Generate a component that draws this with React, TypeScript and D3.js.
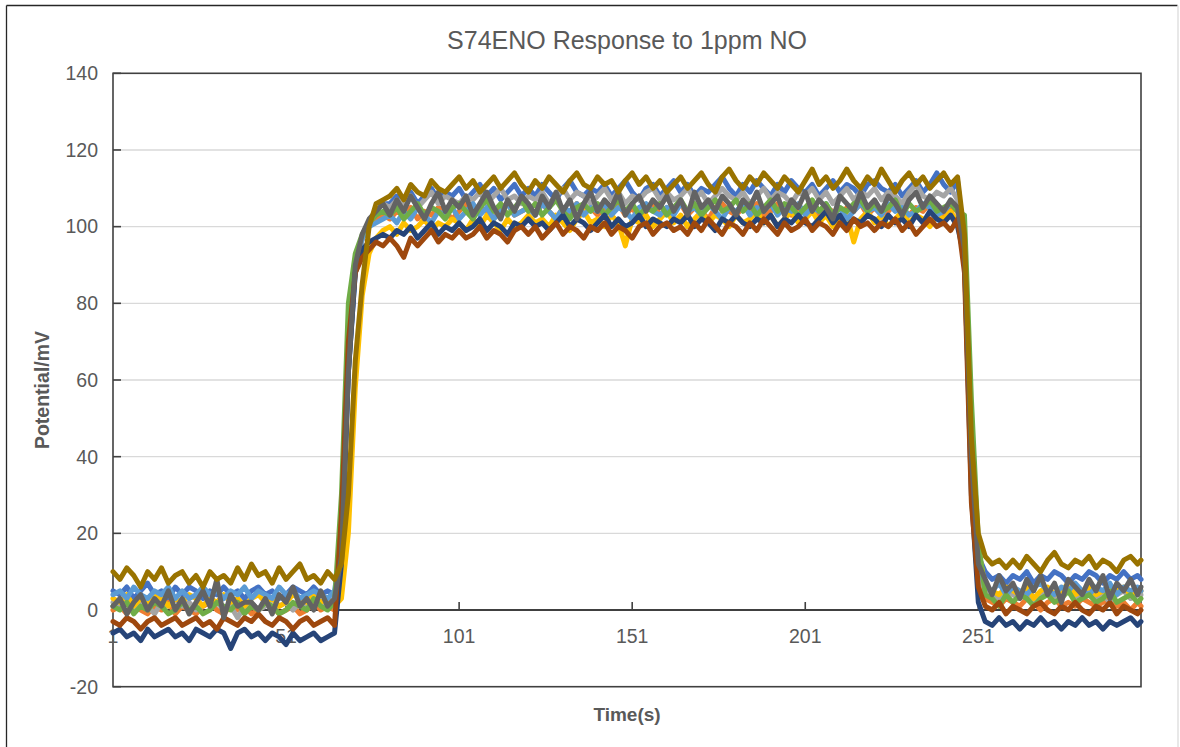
import React from 'react';
import * as d3 from 'd3';

const chartTitle = 'S74ENO Response to 1ppm NO';
const xTitle = 'Time(s)';
const yTitle = 'Potential/mV';
const categoryCount = 298;
const xTickLabels = [1, 51, 101, 151, 201, 251];
const yTicks = [-20, 0, 20, 40, 60, 80, 100, 120, 140];
const seriesColors = ['#4472C4', '#ED7D31', '#A5A5A5', '#FFC000', '#5B9BD5', '#70AD47', '#264478', '#9E480E', '#636363', '#997300'];

// samples every 2 s (t = 1, 3, ..., 297) plus the last category 298
const s1 = [
  5,4,6,3,5,7,4,5,3,6,
  4,6,5,3,5,4,6,4,5,3,
  5,6,4,5,3,4,6,5,4,6,
  4,5,4,15,62,88,97,101,104,106,
  106,108,107,109,106,108,110,107,109,108,
  110,107,109,111,108,110,107,109,111,108,
  110,108,111,109,107,110,112,109,108,110,
  109,111,108,110,112,109,107,110,111,108,
  110,112,109,111,108,110,109,111,113,110,
  108,111,109,112,110,108,111,109,112,110,
  109,111,108,110,112,109,111,110,108,111,
  112,110,109,111,108,110,112,109,111,114,
  111,109,112,95,40,14,10,8,9,7,
  9,8,10,7,9,8,10,9,7,9,
  8,10,9,7,9,8,10,8,9,8,
];
const s2 = [
  0,1,-1,2,0,-1,1,0,2,-1,
  1,0,-1,1,2,0,-1,1,0,1,
  -1,0,2,1,-1,0,1,-1,0,2,
  0,1,0,18,68,90,97,100,102,103,
  102,104,103,105,102,104,103,105,104,102,
  104,106,103,105,104,102,105,106,103,104,
  105,103,106,104,102,105,103,106,104,105,
  103,105,104,106,103,105,102,104,106,103,
  105,104,106,103,105,104,102,105,106,104,
  103,105,104,106,103,104,106,105,103,105,
  104,106,103,105,104,102,105,104,106,103,
  105,103,104,106,105,103,105,104,106,104,
  103,105,104,90,35,8,3,2,1,3,
  2,1,3,2,0,2,3,1,2,1,
  3,2,1,2,3,1,2,0,2,1,
];
const s3 = [
  2,1,3,0,2,1,-1,2,1,3,
  1,2,0,1,3,2,0,1,-2,1,
  2,0,1,3,1,2,0,2,1,3,
  1,2,1,16,64,89,97,101,104,106,
  105,107,106,108,105,107,109,106,108,107,
  106,108,107,109,106,108,110,107,108,106,
  108,107,109,106,108,110,107,109,108,106,
  108,110,107,109,106,108,107,109,110,107,
  109,107,108,110,107,109,106,108,110,108,
  107,109,106,108,110,107,109,108,106,109,
  108,110,107,109,106,108,110,107,109,108,
  110,107,109,108,106,109,111,108,107,109,
  108,110,107,92,38,10,5,4,3,5,
  4,3,5,2,4,5,3,4,6,3,
  4,5,3,4,2,4,5,3,4,4,
];
const s4 = [
  3,2,4,1,3,2,4,3,1,3,
  2,4,3,1,3,2,4,2,3,1,
  3,4,2,3,1,2,4,3,2,4,
  2,3,1,3,20,58,82,93,97,99,
  100,98,101,99,100,102,99,101,100,102,
  101,99,102,100,103,101,99,102,100,101,
  103,101,102,100,103,101,99,102,104,101,
  102,100,103,101,95,102,101,103,100,102,
  104,101,103,100,102,104,101,103,102,100,
  103,101,102,104,101,103,100,102,104,101,
  102,104,101,103,100,102,103,96,102,104,
  101,103,100,102,104,101,103,102,100,103,
  102,104,101,96,48,16,6,5,4,6,
  5,4,6,3,5,6,4,5,7,4,
  5,6,4,5,3,5,6,4,5,5,
];
const s5 = [
  4,5,3,6,4,3,5,4,6,3,
  5,3,4,6,4,5,3,5,4,6,
  3,5,4,3,6,4,5,3,4,5,
  4,3,5,17,65,90,97,100,101,102,
  103,101,104,102,105,103,101,104,103,105,
  102,104,106,103,105,102,104,106,103,104,
  105,103,106,104,102,105,104,106,103,105,
  104,106,103,105,104,102,105,106,104,103,
  105,103,106,104,105,103,106,104,102,105,
  104,106,103,105,104,106,103,105,104,106,
  103,105,104,106,103,105,102,104,106,104,
  105,103,106,104,105,103,104,106,105,103,
  104,106,105,93,42,12,6,5,7,4,
  6,5,4,6,7,5,4,6,5,7,
  5,4,6,5,7,4,6,5,6,5,
];
const s6 = [
  1,0,2,-1,1,0,2,1,-1,0,
  2,0,1,-1,0,2,1,0,2,-1,
  1,0,2,1,-1,0,2,1,0,3,
  1,0,2,30,80,93,98,101,103,104,
  103,105,102,104,106,103,105,104,102,105,
  106,104,102,105,107,104,106,103,105,107,
  104,106,103,105,107,104,102,105,106,104,
  106,103,105,107,104,106,103,105,104,106,
  103,105,107,104,106,103,105,107,104,105,
  107,104,106,103,105,107,104,106,105,103,
  105,107,104,106,103,105,104,106,107,104,
  106,104,105,107,103,106,104,105,107,104,
  105,106,104,103,55,18,4,3,1,4,
  2,4,3,1,3,4,2,3,5,2,
  3,4,2,3,5,2,3,4,2,3,
];
const s7 = [
  -6,-5,-7,-6,-8,-5,-7,-6,-5,-7,
  -6,-8,-5,-6,-7,-5,-6,-10,-6,-5,
  -7,-6,-8,-6,-7,-9,-6,-8,-7,-6,
  -8,-7,-6,12,62,88,94,96,97,98,
  97,99,98,100,97,99,101,98,100,99,
  101,99,100,102,99,101,100,98,101,100,
  102,100,101,99,101,103,100,102,101,99,
  101,103,100,102,100,101,103,100,102,101,
  100,102,101,103,100,102,101,99,102,101,
  103,101,100,102,101,103,100,102,101,103,
  101,100,102,104,101,103,100,102,101,103,
  102,100,103,101,102,100,103,101,104,102,
  101,103,100,92,30,2,-3,-4,-2,-4,
  -3,-5,-3,-4,-2,-4,-3,-5,-3,-4,
  -2,-4,-3,-5,-3,-4,-3,-2,-4,-3,
];
const s8 = [
  -3,-4,-2,-3,-5,-3,-2,-4,-3,-2,
  -4,-3,-2,-4,-3,-5,-2,-3,-4,-2,
  -3,-1,-3,-4,-2,-3,-5,-3,-2,-4,
  -3,-2,-4,25,70,88,92,94,96,95,
  97,95,92,97,95,97,99,96,98,97,
  99,97,98,100,97,99,98,96,99,100,
  98,100,97,99,101,98,100,99,97,100,
  99,101,98,100,99,97,100,101,98,100,
  101,99,100,98,101,99,102,100,98,101,
  100,98,101,99,102,100,98,101,99,100,
  102,99,101,100,98,101,99,102,100,101,
  99,101,100,102,99,101,98,100,102,100,
  101,99,102,88,28,6,1,0,2,-1,
  1,0,-1,1,2,0,-1,1,0,2,
  0,-1,1,0,2,-1,1,0,-1,0,
];
const s9 = [
  1,3,-1,2,4,0,3,1,5,0,
  3,-1,2,5,1,8,-2,4,1,2,
  2,0,3,-1,4,2,6,1,3,0,
  5,1,3,14,62,90,98,102,104,106,
  103,107,104,108,105,102,106,109,104,107,
  105,108,103,106,109,105,102,107,104,108,
  106,103,108,105,109,104,107,102,106,109,
  104,107,105,109,103,106,108,104,107,105,
  108,104,107,103,109,105,107,104,108,106,
  103,107,105,109,104,106,108,103,107,105,
  109,104,107,105,102,108,106,104,109,105,
  107,104,108,106,103,107,109,105,108,106,
  104,107,105,94,40,12,8,4,9,5,
  7,3,8,5,9,4,7,2,8,6,
  4,8,5,9,3,7,5,8,4,6,
];
const s10 = [
  10,8,11,9,6,10,8,11,7,9,
  10,7,9,6,10,8,9,7,11,8,
  12,9,10,7,11,8,10,12,8,9,
  7,10,8,12,30,65,85,100,106,107,
  108,110,107,111,109,108,112,110,109,111,
  113,110,112,109,111,113,110,112,114,111,
  109,112,110,113,111,109,112,114,111,110,
  113,111,112,109,112,114,111,113,110,112,
  109,111,113,110,112,114,111,109,113,115,
  112,110,113,111,114,112,110,113,111,109,
  112,115,111,113,110,112,115,112,110,113,
  111,115,112,109,112,114,111,113,110,112,
  114,111,113,98,45,20,14,12,13,11,
  13,11,14,12,10,13,15,12,11,13,
  12,14,11,13,12,10,13,14,12,13,
];
const seriesValues = [s1, s2, s3, s4, s5, s6, s7, s8, s9, s10];

const W = 1180;
const H = 747;
const plot = { left: 113, right: 1141, top: 73.3, bottom: 686.7 };
const font = '"Liberation Sans", Arial, sans-serif';
const textColor = '#595959';

export default function App() {
  const x = d3.scaleLinear().domain([1, categoryCount]).range([plot.left, plot.right]);
  const y = d3.scaleLinear().domain([-20, 140]).range([plot.bottom, plot.top]);
  const timeAt = (i: number, n: number) => (i < n - 1 ? 1 + 2 * i : categoryCount);

  return (
    <svg width={W} height={H} style={{ position: 'absolute', left: 0, top: 0, background: '#fff' }} fontFamily={font}>
      <rect x={0} y={0} width={W} height={H} fill="#fff" />
      <line x1={6.5} y1={5.5} x2={1177.5} y2={5.5} stroke="#262626" strokeWidth={1.3} />
      <line x1={6.5} y1={5.5} x2={6.5} y2={H} stroke="#262626" strokeWidth={1.3} />
      <line x1={1178} y1={5.5} x2={1178} y2={H} stroke="#d9d9d9" strokeWidth={1.2} />

      <text x={627} y={49} textAnchor="middle" fontSize={25} fill={textColor}>{chartTitle}</text>

      {yTicks.filter((v) => v !== -20 && v !== 140 && v !== 0).map((v) => (
        <line key={'g' + v} x1={plot.left} x2={plot.right} y1={y(v)} y2={y(v)} stroke="#d9d9d9" strokeWidth={1.3} />
      ))}
      <rect x={plot.left} y={plot.top} width={plot.right - plot.left} height={plot.bottom - plot.top} fill="none" stroke="#404040" strokeWidth={1.6} />
      {yTicks.map((v) => (
        <g key={'y' + v}>
          <line x1={plot.left} x2={plot.left + 8} y1={y(v)} y2={y(v)} stroke="#404040" strokeWidth={1.6} />
          <text x={98} y={y(v)} dy="0.35em" textAnchor="end" fontSize={19.5} fill={textColor}>{v}</text>
        </g>
      ))}
      <line x1={plot.left} x2={plot.right} y1={y(0)} y2={y(0)} stroke="#404040" strokeWidth={2} />
      {xTickLabels.map((c) => (
        <g key={'x' + c}>
          <line x1={x(c)} x2={x(c)} y1={y(0)} y2={y(0) - 8} stroke="#404040" strokeWidth={1.6} />
          <text x={x(c)} y={y(0) + 26} dy="0.35em" textAnchor="middle" fontSize={19.5} fill={textColor}>{c}</text>
        </g>
      ))}

      <text x={627} y={721} textAnchor="middle" fontSize={19} fontWeight="bold" fill={textColor}>{xTitle}</text>
      <text transform={`translate(49,${(plot.top + plot.bottom) / 2 + 10}) rotate(-90)`} textAnchor="middle" fontSize={19.5} fontWeight="bold" fill={textColor}>{yTitle}</text>

      <g fill="none" strokeWidth={5} strokeLinejoin="round" strokeLinecap="round">
        {seriesValues.map((s, k) => {
          const gen = d3.line<number>().x((_, i) => x(timeAt(i, s.length))).y((d) => y(d));
          return <path key={k} d={gen(s) || ''} stroke={seriesColors[k]} />;
        })}
      </g>
    </svg>
  );
}
